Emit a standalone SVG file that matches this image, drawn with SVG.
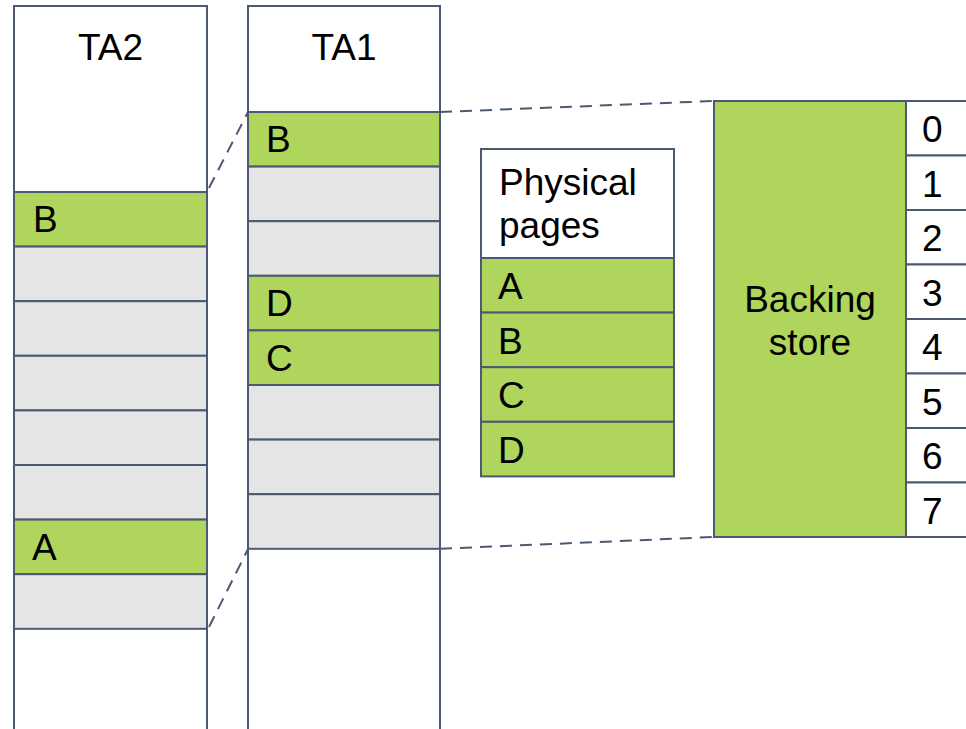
<svg xmlns="http://www.w3.org/2000/svg" width="966" height="729" viewBox="0 0 966 729">
<style>
.col{fill:#ffffff;stroke:#4b5a72;stroke-width:2}
.g{fill:#afd55c;stroke:#4b5a72;stroke-width:2}
.e{fill:#e5e5e5;stroke:#4b5a72;stroke-width:2}
.w{fill:#ffffff;stroke:#4b5a72;stroke-width:2}
.t{font-family:"Liberation Sans",Arial,sans-serif;font-size:37px;fill:#000}
.c{text-anchor:middle}
.d{fill:none;stroke:#4b5a72;stroke-width:2;stroke-dasharray:12,8}
</style>
<rect width="966" height="729" fill="#ffffff"/>
<g id="TA2">
<rect class="col" x="14" y="6" width="193" height="730"/>
<text class="t c" x="110.5" y="60">TA2</text>
<rect class="g" x="14" y="192" width="193" height="54.6"/>
<text class="t" x="33" y="232">B</text>
<rect class="e" x="14" y="246.6" width="193" height="54.6"/>
<rect class="e" x="14" y="301.2" width="193" height="54.6"/>
<rect class="e" x="14" y="355.8" width="193" height="54.6"/>
<rect class="e" x="14" y="410.4" width="193" height="54.6"/>
<rect class="e" x="14" y="465" width="193" height="54.6"/>
<rect class="g" x="14" y="519.6" width="193" height="54.6"/>
<text class="t" x="32" y="560">A</text>
<rect class="e" x="14" y="574.2" width="193" height="54.6"/>
</g>
<g id="TA1">
<rect class="col" x="248" y="6" width="192" height="730"/>
<text class="t c" x="344" y="60">TA1</text>
<rect class="g" x="248" y="112" width="192" height="54.6"/>
<text class="t" x="266" y="152">B</text>
<rect class="e" x="248" y="166.6" width="192" height="54.6"/>
<rect class="e" x="248" y="221.2" width="192" height="54.6"/>
<rect class="g" x="248" y="275.8" width="192" height="54.6"/>
<text class="t" x="266" y="316">D</text>
<rect class="g" x="248" y="330.4" width="192" height="54.6"/>
<text class="t" x="266" y="371">C</text>
<rect class="e" x="248" y="385" width="192" height="54.6"/>
<rect class="e" x="248" y="439.6" width="192" height="54.6"/>
<rect class="e" x="248" y="494.2" width="192" height="54.6"/>
</g>
<g id="physical-pages">
<rect class="w" x="481" y="149" width="193" height="109"/>
<text class="t" x="499" y="195">Physical</text>
<text class="t" x="499" y="238">pages</text>
<rect class="g" x="481" y="258" width="193" height="54.6"/>
<text class="t" x="498" y="299">A</text>
<rect class="g" x="481" y="312.6" width="193" height="54.6"/>
<text class="t" x="498" y="354">B</text>
<rect class="g" x="481" y="367.2" width="193" height="54.6"/>
<text class="t" x="498" y="408">C</text>
<rect class="g" x="481" y="421.8" width="193" height="54.6"/>
<text class="t" x="498" y="463">D</text>
</g>
<g id="backing-store">
<rect class="g" x="714" y="101" width="192" height="436"/>
<text class="t c" x="810" y="312">Backing</text>
<text class="t c" x="810" y="355">store</text>
</g>
<g id="slots">
<rect class="w" x="906" y="101" width="70" height="54.5"/>
<rect class="w" x="906" y="155.5" width="70" height="54.5"/>
<rect class="w" x="906" y="210" width="70" height="54.5"/>
<rect class="w" x="906" y="264.5" width="70" height="54.5"/>
<rect class="w" x="906" y="319" width="70" height="54.5"/>
<rect class="w" x="906" y="373.5" width="70" height="54.5"/>
<rect class="w" x="906" y="428" width="70" height="54.5"/>
<rect class="w" x="906" y="482.5" width="70" height="54.5"/>
<text class="t" x="922" y="142">0</text>
<text class="t" x="922" y="196.5">1</text>
<text class="t" x="922" y="251">2</text>
<text class="t" x="922" y="305.5">3</text>
<text class="t" x="922" y="360">4</text>
<text class="t" x="922" y="414.5">5</text>
<text class="t" x="922" y="469">6</text>
<text class="t" x="922" y="523.5">7</text>
</g>
<g id="connectors">
<line class="d" x1="209" y1="188" x2="248" y2="112"/>
<line class="d" x1="209" y1="627" x2="248" y2="549"/>
<line class="d" x1="440" y1="112" x2="714" y2="101"/>
<line class="d" x1="440" y1="548.8" x2="714" y2="537"/>
</g>
</svg>
